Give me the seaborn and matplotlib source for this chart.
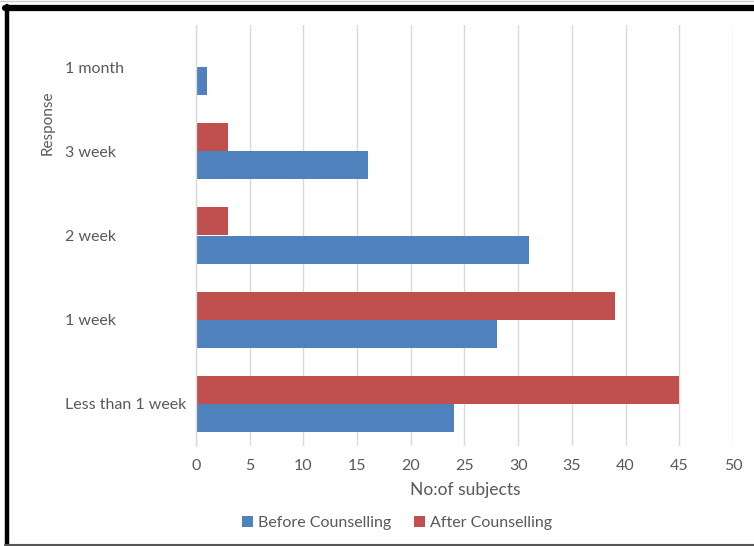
import matplotlib
matplotlib.use("Agg")
import matplotlib.pyplot as plt
from matplotlib.lines import Line2D
from matplotlib.patches import Patch
import seaborn as sns
import pandas as pd

# Survey responses: time taken, before vs after counselling
categories = ["1 month", "3 week", "2 week", "1 week", "Less than 1 week"]
before_counselling = [1, 16, 31, 28, 24]
after_counselling = [0, 3, 3, 39, 45]
x_ticks = [0, 5, 10, 15, 20, 25, 30, 35, 40, 45, 50]

BLUE = "#4F81BD"
RED = "#C0504D"
TEXT = "#595959"
GRID = "#D9D9D9"

rows = []
for cat, b, a in zip(categories, before_counselling, after_counselling):
    rows.append({"Response": cat, "Group": "After Counselling", "Count": a})
    rows.append({"Response": cat, "Group": "Before Counselling", "Count": b})
df = pd.DataFrame(rows)

sns.set_theme(style="white")
plt.rcParams["font.family"] = ["Lato", "DejaVu Sans"]

W, H = 754, 546
fig = plt.figure(figsize=(W / 100, H / 100), dpi=100)
ax = fig.add_axes([196 / W, (H - 446) / H, (733 - 196) / W, (446 - 25) / H])

sns.barplot(
    data=df, y="Response", x="Count", hue="Group",
    order=categories, hue_order=["After Counselling", "Before Counselling"],
    palette={"After Counselling": RED, "Before Counselling": BLUE},
    saturation=1, width=0.667, orient="h", ax=ax, linewidth=0, legend=False,
)

ax.set_xlim(0, 50)
ax.set_ylim(len(categories) - 0.5, -0.5)
ax.set_xticks(x_ticks)
ax.set_xticklabels([str(t) for t in x_ticks], fontsize=11.5, color=TEXT)
ax.grid(axis="x", color=GRID, linewidth=1)
ax.set_axisbelow(True)
for side in ["top", "right", "bottom"]:
    ax.spines[side].set_visible(False)
ax.spines["left"].set_color(GRID)
ax.spines["left"].set_linewidth(1)
ax.tick_params(axis="x", length=0, pad=9)
ax.tick_params(axis="y", length=0, pad=94)
for lbl in ax.get_yticklabels():
    lbl.set_ha("left")
    lbl.set_color(TEXT)
    lbl.set_fontsize(11.5)
ax.set_xlabel("")
ax.set_ylabel("")

fig.text(465 / W, 1 - 490 / H, "No:of subjects", ha="center", va="center",
         fontsize=12.5, color=TEXT)
fig.text(48 / W, 1 - 123 / H, "Response", ha="center", va="center",
         rotation=90, fontsize=11, color=TEXT)

handles = [Patch(facecolor=BLUE, edgecolor="none"),
           Patch(facecolor=RED, edgecolor="none")]
fig.legend(handles, ["Before Counselling", "After Counselling"],
           loc="center", bbox_to_anchor=(397 / W, 1 - 523 / H), ncol=2,
           frameon=False, fontsize=11.5, labelcolor=TEXT,
           handlelength=0.7, handleheight=0.7, handletextpad=0.3,
           columnspacing=1.4)

# Frame drawn around the figure
fig.add_artist(Line2D([5 / W, 1], [1 - 8 / H, 1 - 8 / H], color="black",
                      linewidth=4.5, transform=fig.transFigure))
fig.add_artist(Line2D([7 / W, 7 / W], [1 - 6 / H, 0], color="black",
                      linewidth=3.2, transform=fig.transFigure))
fig.add_artist(Line2D([5 / W, 1], [1.5 / H, 1.5 / H], color="#555555",
                      linewidth=1.5, transform=fig.transFigure))
fig.add_artist(Line2D([0, 1], [1 - 1 / H, 1 - 1 / H], color="#CCCCCC",
                      linewidth=1, transform=fig.transFigure))

fig.savefig("out.png", dpi=100, facecolor="white")
